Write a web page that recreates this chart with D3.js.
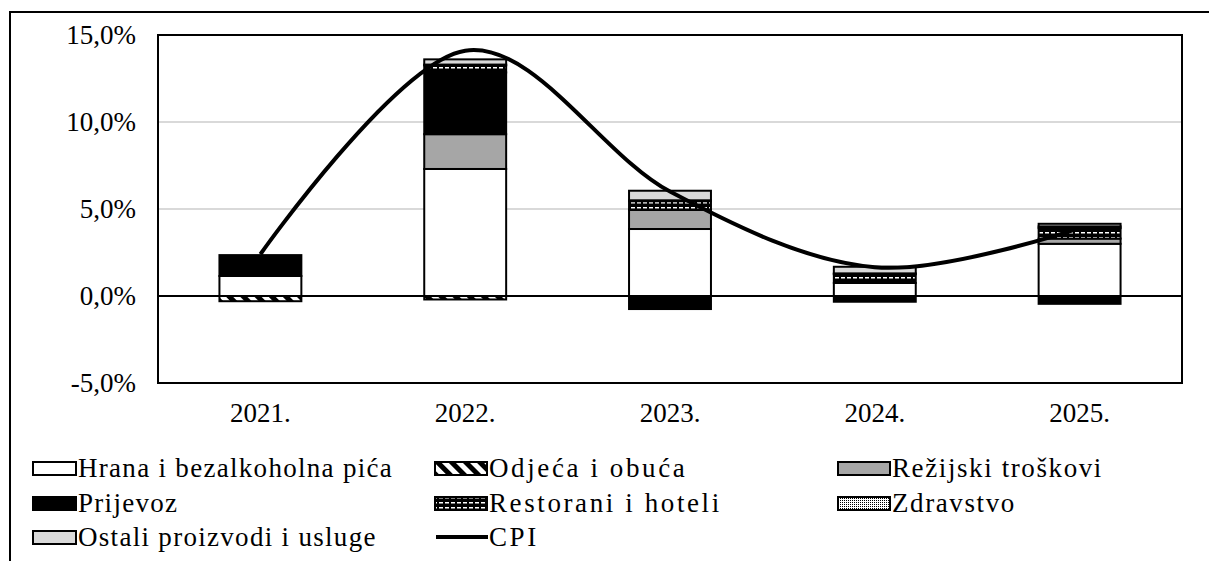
<!DOCTYPE html>
<html><head><meta charset="utf-8">
<script src="https://cdn.jsdelivr.net/npm/d3@7"></script>
<style>body{margin:0;background:#fff}svg{display:block}</style>
</head><body><svg id="c" width="1209" height="561"></svg>
<script>
const years = ["2021.", "2022.", "2023.", "2024.", "2025."];
const hrana     = [1.15, 7.3, 3.85, 0.75, 3.0];
const odjeca    = [-0.3, -0.2, 0, 0, 0];
const rezijski  = [0, 2.0, 1.1, 0, 0.3];
const prijevoz  = [1.2, 3.55, -0.75, -0.33, -0.45];
const restorani = [0, 0.4, 0.5, 0.5, 0.6];
const zdravstvo = [0, 0.05, 0.05, 0.05, 0.1];
const ostali    = [0, 0.3, 0.55, 0.38, 0.15];
const cpi       = [2.4, 14.1, 6.0, 1.65, 3.9];
const yTicks = [-5, 0, 5, 10, 15];
const seriesNames = ["Hrana i bezalkoholna pića","Odjeća i obuća","Režijski troškovi","Prijevoz","Restorani i hoteli","Zdravstvo","Ostali proizvodi i usluge"];
const seriesVals = [hrana, odjeca, rezijski, prijevoz, restorani, zdravstvo, ostali];
const fills = ["#ffffff","url(#hatch)","#a6a6a6","#000000","url(#grid)","url(#dots)","#d9d9d9"];
const FONT = '"Liberation Serif", serif';

const svg = d3.select("#c");
const defs = svg.append("defs");
const h = defs.append("pattern").attr("id","hatch").attr("patternUnits","userSpaceOnUse").attr("width",10).attr("height",10).attr("patternTransform","rotate(-45)");
h.append("rect").attr("width",10).attr("height",10).attr("fill","#fff");
h.append("rect").attr("width",5).attr("height",10).attr("fill","#000");
const g = defs.append("pattern").attr("id","grid").attr("patternUnits","userSpaceOnUse").attr("width",6).attr("height",5);
g.append("rect").attr("width",6).attr("height",5).attr("fill","#000");
g.append("rect").attr("x",1).attr("y",2).attr("width",4).attr("height",1.5).attr("fill","#fff");
const dd = defs.append("pattern").attr("id","dots").attr("patternUnits","userSpaceOnUse").attr("width",2).attr("height",2);
dd.append("rect").attr("width",2).attr("height",2).attr("fill","#fff");
dd.append("rect").attr("width",1).attr("height",1).attr("fill","#000");

// outer frame
svg.append("path").attr("d","M10,561V12H1209").attr("fill","none").attr("stroke","#000").attr("stroke-width",2);

const L=158,R=1182,T=35,B=383;
const x = d3.scaleBand().domain(years).range([L,R]).paddingInner(0.6).paddingOuter(0.3);
const y = d3.scaleLinear().domain([-5,15]).range([B,T]);

// gridlines
svg.append("g").selectAll("line").data([5,10]).join("line")
  .attr("x1",L).attr("x2",R).attr("y1",d=>y(d)).attr("y2",d=>y(d)).attr("stroke","#d9d9d9").attr("stroke-width",2);

// stacks
const stackData = years.map((yr,i)=>{
  let pos=0,neg=0; const segs=[];
  seriesVals.forEach((arr,s)=>{
    const v=arr[i]; if(!v) return;
    if(v>0){segs.push({s,y0:pos,y1:pos+v});pos+=v;}
    else {segs.push({s,y0:neg+v,y1:neg});neg+=v;}
  });
  return {yr,segs};
});
const bars = svg.append("g");
stackData.forEach(d=>{
  bars.selectAll(null).data(d.segs).join("rect")
   .attr("x",x(d.yr)).attr("width",x.bandwidth())
   .attr("y",s=>y(s.y1)).attr("height",s=>y(s.y0)-y(s.y1))
   .attr("fill",s=>fills[s.s]).attr("stroke","#000").attr("stroke-width",2);
});

// zero line
svg.append("line").attr("x1",L).attr("x2",R).attr("y1",y(0)).attr("y2",y(0)).attr("stroke","#000").attr("stroke-width",2);

// CPI
const line = d3.line().x((d,i)=>x(years[i])+x.bandwidth()/2).y(d=>y(d)).curve(d3.curveCardinal.tension(0));
svg.append("path").datum(cpi).attr("d",line).attr("fill","none").attr("stroke","#000").attr("stroke-width",4);

// plot border
svg.append("rect").attr("x",L).attr("y",T).attr("width",R-L).attr("height",B-T).attr("fill","none").attr("stroke","#000").attr("stroke-width",2);

// y axis labels
const fmt = d=>d3.format(".1f")(d).replace(".",",").replace("−","-")+"%";
svg.append("g").selectAll("text").data(yTicks).join("text")
  .attr("x",136).attr("y",d=>y(d)).attr("dy","0.35em").attr("text-anchor","end")
  .style("font-family",FONT).style("font-size","27px").text(fmt);
// x labels
svg.append("g").selectAll("text").data(years).join("text")
  .attr("x",d=>x(d)+x.bandwidth()/2).attr("y",413).attr("dy","0.35em").attr("text-anchor","middle")
  .style("font-family",FONT).style("font-size","27px").text(d=>d);

// legend
const legItems = seriesNames.map((n,i)=>({n,fill:fills[i],type:"rect"})).concat([{n:"CPI",type:"line"}]);
const colX=[33,435,838], colW=[43,52,52], colLS=[1.3,2.6,1.6], rowY=[468,503,537];
const leg = svg.append("g");
legItems.forEach((d,i)=>{
  const c=i%3, cx=colX[c], cy=rowY[Math.floor(i/3)], w=colW[c];
  if(d.type==="rect"){
    leg.append("rect").attr("x",cx).attr("y",cy-6).attr("width",w).attr("height",13).attr("fill",d.fill).attr("stroke","#000").attr("stroke-width",2);
  } else {
    leg.append("line").attr("x1",cx+1).attr("x2",cx+w+1).attr("y1",cy).attr("y2",cy).attr("stroke","#000").attr("stroke-width",4);
  }
  leg.append("text").attr("x",cx+w+2).attr("y",cy).attr("dy","0.35em")
    .style("font-family",FONT).style("font-size","27px").style("letter-spacing",colLS[c]+"px").text(d.n);
});
</script></body></html>
